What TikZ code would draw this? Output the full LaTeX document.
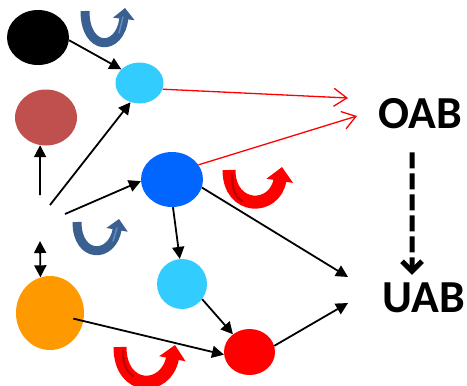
\documentclass[tikz,border=0pt]{standalone}
\usepackage{fontspec}
\newfontfamily\carlito{Carlito}
\usetikzlibrary{arrows.meta,shapes.geometric}
\definecolor{lblue}{HTML}{33CCFF}
\definecolor{brownred}{HTML}{C0504D}
\definecolor{vblue}{HTML}{0066FF}
\definecolor{orng}{HTML}{FF9900}
\definecolor{ublue}{RGB}{58,95,145}
\definecolor{ubluehi}{RGB}{100,140,190}
\definecolor{reddark}{RGB}{200,0,0}
\begin{document}
\begin{tikzpicture}[x=1bp,y=-1bp,
  blob/.style={ellipse,inner sep=0pt,draw=none},
  conn/.style={line width=1.8bp,-{Triangle[length=12bp,width=12bp]}},
  redconn/.style={red,line width=1.3bp,-{Straight Barb[length=13bp,width=18bp]}},
  dashconn/.style={line width=5bp,dash pattern=on 16bp off 5bp,-{Straight Barb[length=10bp,width=20bp]}},
  ubluearrow/.style={draw=ublue,line width=9bp,-{Triangle[length=11bp,width=21bp]}},
  uredarrow/.style={draw=red,line width=13bp,-{Triangle[length=14bp,width=26bp]}},
  bluehi/.style={draw=ubluehi,line width=1.5bp,line cap=round},
  redhi/.style={draw=reddark,line width=2.5bp,line cap=round},
  lbl/.style={font=\carlito\bfseries\fontsize{46}{50}\selectfont,inner sep=0pt}
]
\useasboundingbox (0,0) rectangle (467,385);

% nodes
\node[blob,fill=black,minimum width=62bp,minimum height=55bp] (blk) at (38,37.5) {};
\node[blob,fill=lblue,minimum width=48bp,minimum height=41bp] (lb1) at (139.5,83) {};
\node[blob,fill=brownred,minimum width=62bp,minimum height=56bp] (brn) at (46,117.5) {};
\node[blob,fill=vblue,minimum width=62bp,minimum height=55bp] (blu) at (172,179.5) {};
\node[blob,fill=lblue,minimum width=50bp,minimum height=50bp] (lb2) at (182,284) {};
\node[blob,fill=orng,minimum width=68bp,minimum height=74bp] (org) at (50,313) {};
\node[blob,fill=red,minimum width=51bp,minimum height=46bp] (rd) at (249.5,352) {};
\node[lbl] (OAB) at (420,114) {OAB};
\node[lbl] (UAB) at (424,298) {UAB};

% free ends
\coordinate (h1) at (40,195);
\coordinate (h2) at (50,205);
\coordinate (h3) at (65,214);
\coordinate (h4) at (40,241);
\coordinate (o1) at (348,98);
\coordinate (o2) at (357,116);
\coordinate (u1) at (348,277);
\coordinate (u2) at (348,303);

% connectors
\draw[conn] (blk.-5) -- (lb1.143);
\draw[conn] (h1) -- (brn.258);
\draw[conn] (h2) -- (lb1.245);
\draw[conn] (h3) -- (blu.183);
\draw[line width=1.8bp,{Triangle[length=12bp,width=12bp]}-{Triangle[length=12bp,width=12bp]}] (h4) -- (org.105);
\draw[conn] (blu.-88) -- (lb2.95);
\draw[conn] (blu.-15) -- (u1);
\draw[conn] (lb2.-37) -- (rd.133);
\draw[conn,shorten <=24bp] (org.center) -- (rd.186);
\draw[conn] (rd.14) -- (u2);
\draw[redconn] (lb1.-15) -- (o1);
\draw[redconn] (blu.29) -- (o2);
\draw[dashconn] ([xshift=-8bp,yshift=-23bp]OAB.south) -- ([xshift=-12bp,yshift=8bp]UAB.north);

% U-shaped arrows
\draw[ubluearrow] (85,11) .. controls (85,52) and (120,52) .. (125,8);
\draw[bluehi] (123,17) -- (119,33);
\draw[ubluearrow] (77,222) .. controls (77,259) and (112,259) .. (119,219);
\draw[bluehi] (117,228) -- (113,241);
\draw[uredarrow] (229,170) .. controls (229,211) and (275,211) .. (282,167);
\draw[redhi] (232,174) .. controls (232,190) and (236,198) .. (242,201);
\draw[uredarrow] (120,347) .. controls (120,392) and (166,392) .. (175,345);
\draw[redhi] (123,351) .. controls (123,365) and (127,372) .. (133,376);
\end{tikzpicture}
\end{document}
